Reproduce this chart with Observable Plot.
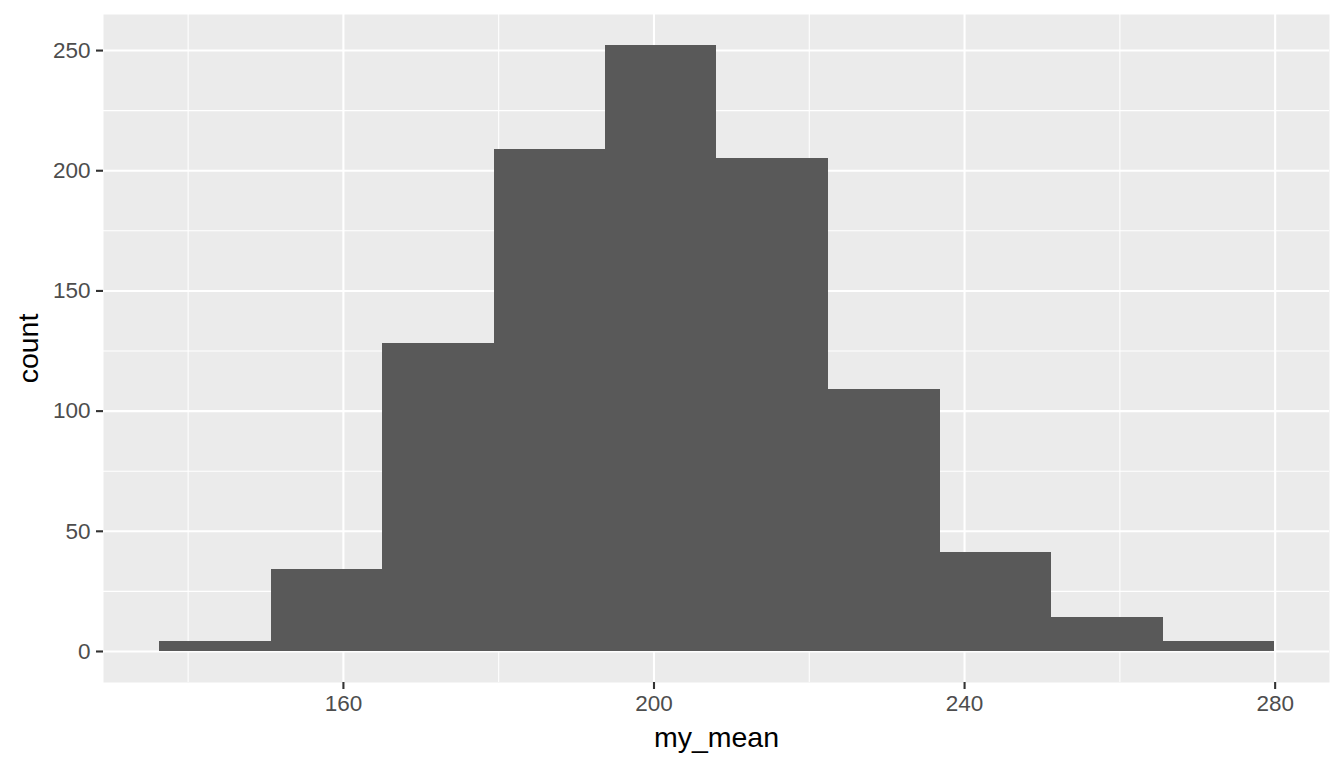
<!DOCTYPE html>
<html>
<head>
<meta charset="utf-8">
<script src="https://cdn.jsdelivr.net/npm/d3@7"></script>
<script src="https://cdn.jsdelivr.net/npm/@observablehq/plot@0.6"></script>
<style>
  html, body { margin: 0; padding: 0; background: #ffffff; }
  #chart svg { display: block; }
</style>
</head>
<body>
<div id="chart"></div>
<script>
// Histogram bin edges (my_mean) and counts
const binEdges = [136.3, 150.7, 165.0, 179.4, 193.8, 208.1, 222.5, 236.9, 251.2, 265.6, 279.9];
const counts = [4, 34, 128, 209, 252, 205, 109, 41, 14, 4];
const xMajorTicks = [160, 200, 240, 280];
const xMinorTicks = [140, 180, 220, 260];
const yMajorTicks = [0, 50, 100, 150, 200, 250];
const yMinorTicks = [25, 75, 125, 175, 225];
const xTitle = "my_mean";
const yTitle = "count";

const bins = counts.map((c, i) => ({x1: binEdges[i], x2: binEdges[i + 1], count: c}));

const font = "'Liberation Sans', Arial, Helvetica, sans-serif";

const chart = Plot.plot({
  width: 1344,
  height: 768,
  marginLeft: 103,
  marginRight: 15,
  marginTop: 14,
  marginBottom: 86,
  style: {fontFamily: font, background: "#ffffff"},
  x: {domain: [129.1, 287.0]},
  y: {domain: [-12.9, 265.0]},
  marks: [
    Plot.frame({fill: "#ebebeb", stroke: null}),
    Plot.ruleX(xMinorTicks, {stroke: "#ffffff", strokeWidth: 1.05}),
    Plot.ruleY(yMinorTicks, {stroke: "#ffffff", strokeWidth: 1.05}),
    Plot.ruleX(xMajorTicks, {stroke: "#ffffff", strokeWidth: 2.1}),
    Plot.ruleY(yMajorTicks, {stroke: "#ffffff", strokeWidth: 2.1}),
    Plot.rectY(bins, {x1: "x1", x2: "x2", y1: 0, y2: "count", fill: "#595959", inset: 0, shapeRendering: "crispEdges"}),
    Plot.axisX({ticks: xMajorTicks, tickSize: 7, tickPadding: 6, stroke: "#333333", strokeWidth: 2.1, fill: "#4d4d4d", fontSize: 22.5, label: null, tickFormat: d => String(d)}),
    Plot.axisY({ticks: yMajorTicks, tickSize: 7, tickPadding: 6, stroke: "#333333", strokeWidth: 2.1, fill: "#4d4d4d", fontSize: 22.5, label: null, tickFormat: d => String(d)}),
    Plot.text([xTitle], {text: d => d, frameAnchor: "bottom", dy: 55, lineAnchor: "middle", textAnchor: "middle", fontSize: 28.5, fill: "#000000"}),
    Plot.text([yTitle], {text: d => d, frameAnchor: "left", dx: -75, rotate: -90, lineAnchor: "middle", textAnchor: "middle", fontSize: 28.5, fill: "#000000"})
  ]
});
document.getElementById("chart").appendChild(chart);
</script>
</body>
</html>
